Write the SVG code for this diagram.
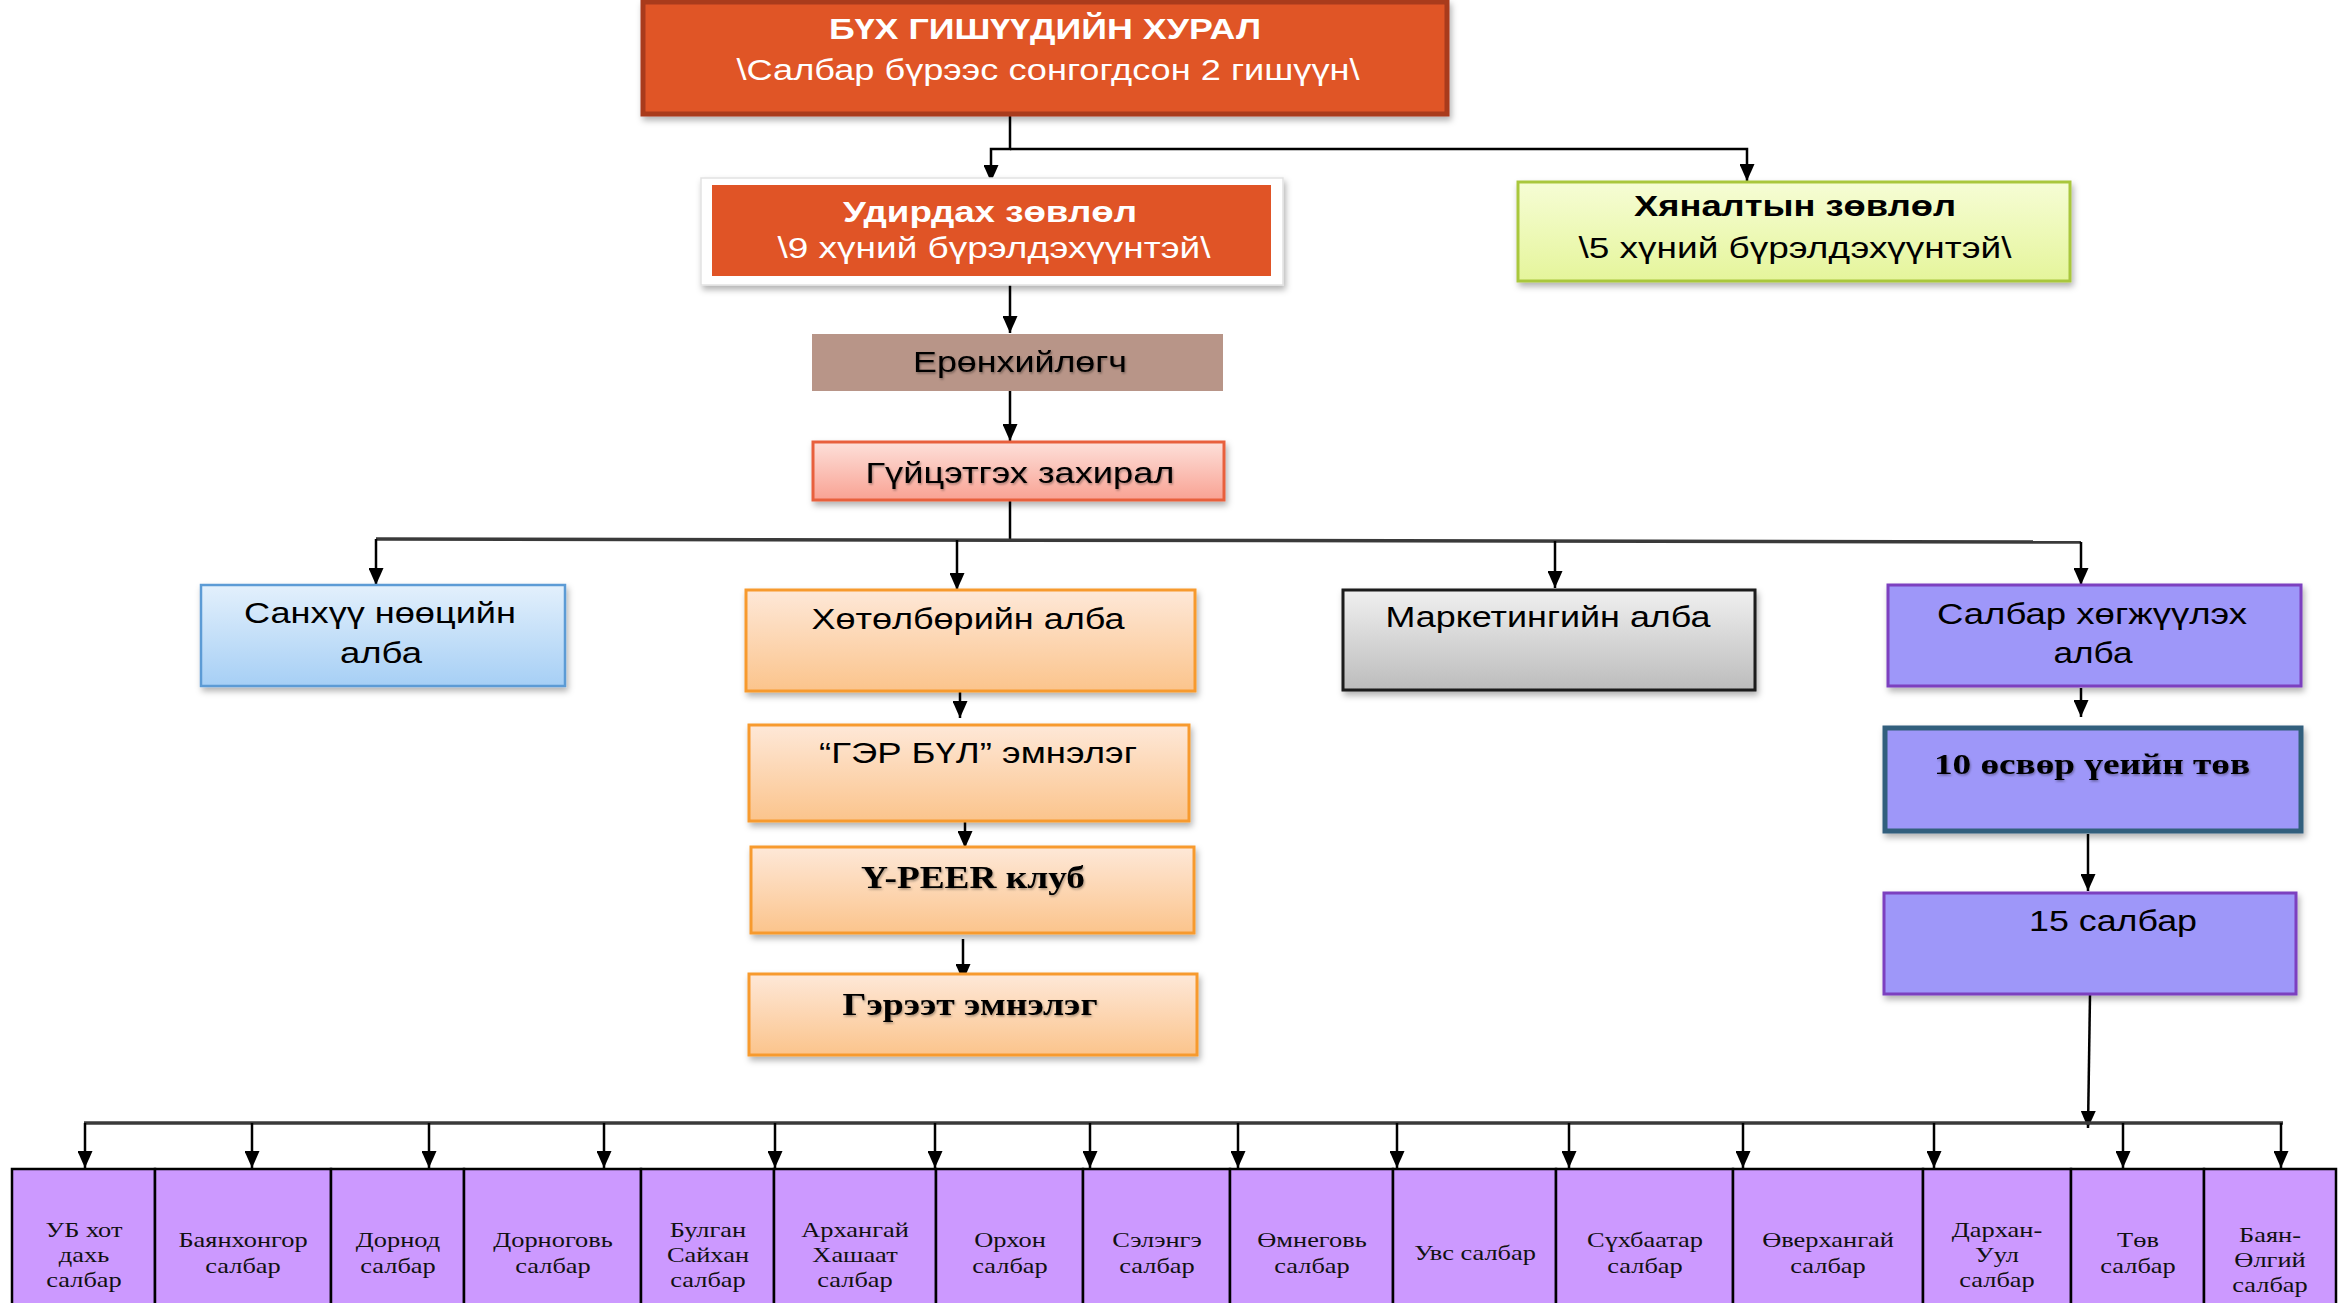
<svg xmlns="http://www.w3.org/2000/svg" width="2338" height="1303" viewBox="0 0 2338 1303">
<defs>
<style>
.s{font-family:"Liberation Sans",Arial,sans-serif;font-size:29px;text-anchor:middle;fill:#000}
.b{font-weight:bold}
.w{fill:#fff}
.r{font-family:"Liberation Serif","Times New Roman",serif;text-anchor:middle;fill:#000}
.cell{font-family:"Liberation Serif","Times New Roman",serif;font-size:22px;text-anchor:middle;fill:#111}
.ln{fill:none;stroke:#000;stroke-width:2.5}
.ar{fill:none;stroke:#000;stroke-width:2.5;marker-end:url(#ah)}
.bus{fill:none;stroke:#3a3a3a;stroke-width:3.5}
.cellbox{fill:#cc99ff;stroke:#000;stroke-width:2.5}
.purple{fill:#9e97f9;stroke:#7b3fbf;stroke-width:3}
.ts{filter:url(#tsh)}
</style>
<marker id="ah" markerUnits="userSpaceOnUse" markerWidth="17" markerHeight="15" viewBox="0 0 17 15" refX="17" refY="7.5" orient="auto"><path d="M0,0 L17,7.5 L0,15 z" fill="#000"/></marker>
<filter id="sh" x="-5%" y="-10%" width="115%" height="135%"><feDropShadow dx="2" dy="4" stdDeviation="3" flood-color="#000" flood-opacity="0.3"/></filter>
<filter id="tsh" x="-5%" y="-20%" width="115%" height="150%"><feDropShadow dx="1" dy="1.5" stdDeviation="1" flood-color="#000" flood-opacity="0.35"/></filter>
<linearGradient id="gBlue" x1="0" y1="0" x2="0" y2="1"><stop offset="0" stop-color="#e3f0fc"/><stop offset="1" stop-color="#a6cff5"/></linearGradient>
<linearGradient id="gPeach" x1="0" y1="0" x2="0" y2="1"><stop offset="0" stop-color="#fee8d8"/><stop offset="1" stop-color="#fbc48c"/></linearGradient>
<linearGradient id="gGray" x1="0" y1="0" x2="0" y2="1"><stop offset="0" stop-color="#f0f0f0"/><stop offset="1" stop-color="#bcbcbc"/></linearGradient>
<linearGradient id="gPink" x1="0" y1="0" x2="0" y2="1"><stop offset="0" stop-color="#fde0da"/><stop offset="1" stop-color="#f9a293"/></linearGradient>
<linearGradient id="gLime" x1="0" y1="0" x2="0" y2="1"><stop offset="0" stop-color="#f6fdd5"/><stop offset="1" stop-color="#e5f59b"/></linearGradient>
</defs>
<rect width="2338" height="1303" fill="#fff"/>

<g id="connectors">
<path class="ar" d="M1010,115 V149 H991 V182"/>
<path class="ar" d="M1010,149 H1747 V181"/>
<path class="ar" d="M1010,285 V333"/>
<path class="ar" d="M1010,391 V441"/>
<path class="ln" d="M1010,500 V540"/>
<path class="bus" d="M376,539 L2081,542"/>
<path class="ar" d="M376,539 V585"/>
<path class="ar" d="M957,540 V590"/>
<path class="ar" d="M1555,541 V588"/>
<path class="ar" d="M2081,542 V585"/>
<path class="ar" d="M960,692 V718"/>
<path class="ar" d="M965,821 V848"/>
<path class="ar" d="M963,939 V981"/>
<path class="ar" d="M2081,688 V717"/>
<path class="ar" d="M2088,834 V891"/>
<path class="ar" d="M2090,995 L2088,1128"/>
<path class="bus" d="M84,1123 H2283"/>
<path class="ar" d="M85,1123 V1168"/>
<path class="ar" d="M252,1123 V1168"/>
<path class="ar" d="M429,1123 V1168"/>
<path class="ar" d="M604,1123 V1168"/>
<path class="ar" d="M775,1123 V1168"/>
<path class="ar" d="M935,1123 V1168"/>
<path class="ar" d="M1090,1123 V1168"/>
<path class="ar" d="M1238,1123 V1168"/>
<path class="ar" d="M1397,1123 V1168"/>
<path class="ar" d="M1569,1123 V1168"/>
<path class="ar" d="M1743,1123 V1168"/>
<path class="ar" d="M1934,1123 V1168"/>
<path class="ar" d="M2123,1123 V1168"/>
<path class="ar" d="M2281,1123 V1168"/>
</g>

<g id="general-assembly">
<rect x="643" y="2" width="804" height="112" fill="#e05426" stroke="#a93b1e" stroke-width="5" filter="url(#sh)"/>
<text class="s b w" x="1045" y="39" textLength="432" lengthAdjust="spacingAndGlyphs">БҮХ ГИШҮҮДИЙН ХУРАЛ</text>
<text class="s w" x="1048" y="80" textLength="623" lengthAdjust="spacingAndGlyphs">\Салбар бүрээс сонгогдсон 2 гишүүн\</text>
</g>

<g id="board">
<rect x="701" y="178" width="582" height="107" fill="#fff" stroke="#e2e2e2" stroke-width="1.5" filter="url(#sh)"/>
<rect x="712" y="185" width="559" height="91" fill="#e05426"/>
<text class="s b w" x="990" y="222" textLength="294" lengthAdjust="spacingAndGlyphs">Удирдах зөвлөл</text>
<text class="s w" x="994" y="258" textLength="433" lengthAdjust="spacingAndGlyphs">\9 хүний бүрэлдэхүүнтэй\</text>
</g>

<g id="supervisory">
<rect x="1518" y="182" width="552" height="99" fill="url(#gLime)" stroke="#a9c73d" stroke-width="3" filter="url(#sh)"/>
<text class="s b" x="1795" y="216" textLength="322" lengthAdjust="spacingAndGlyphs">Хяналтын зөвлөл</text>
<text class="s" x="1795" y="258" textLength="433" lengthAdjust="spacingAndGlyphs">\5 хүний бүрэлдэхүүнтэй\</text>
</g>

<g id="president">
<rect x="812" y="334" width="411" height="57" fill="#b89588"/>
<text class="s ts" x="1020" y="372" font-size="28" textLength="214" lengthAdjust="spacingAndGlyphs">Ерөнхийлөгч</text>
</g>

<g id="director">
<rect x="813" y="442" width="411" height="58" fill="url(#gPink)" stroke="#e8603c" stroke-width="3" filter="url(#sh)"/>
<text class="s ts" x="1020" y="483" font-size="28" textLength="309" lengthAdjust="spacingAndGlyphs">Гүйцэтгэх захирал</text>
</g>

<g id="finance">
<rect x="201" y="585" width="364" height="101" fill="url(#gBlue)" stroke="#5b9bd5" stroke-width="2.5" filter="url(#sh)"/>
<text class="s" x="380" y="623" textLength="272" lengthAdjust="spacingAndGlyphs">Санхүү нөөцийн</text>
<text class="s" x="381" y="663" textLength="82" lengthAdjust="spacingAndGlyphs">алба</text>
</g>

<g id="program">
<rect x="746" y="590" width="449" height="101" fill="url(#gPeach)" stroke="#f79a2e" stroke-width="3" filter="url(#sh)"/>
<text class="s" x="968" y="629" textLength="313" lengthAdjust="spacingAndGlyphs">Хөтөлбөрийн алба</text>
</g>

<g id="family-clinic">
<rect x="749" y="725" width="440" height="96" fill="url(#gPeach)" stroke="#f79a2e" stroke-width="3" filter="url(#sh)"/>
<text class="s" x="978" y="763" font-size="27" textLength="318" lengthAdjust="spacingAndGlyphs">“ГЭР БҮЛ” эмнэлэг</text>
</g>

<g id="ypeer">
<rect x="751" y="847" width="443" height="86" fill="url(#gPeach)" stroke="#f79a2e" stroke-width="3" filter="url(#sh)"/>
<text class="r b ts" x="973" y="888" font-size="31" textLength="224" lengthAdjust="spacingAndGlyphs">Y-PEER клуб</text>
</g>

<g id="contract-clinic">
<rect x="749" y="974" width="448" height="81" fill="url(#gPeach)" stroke="#f79a2e" stroke-width="3" filter="url(#sh)"/>
<text class="r b ts" x="970" y="1015" font-size="31" textLength="255" lengthAdjust="spacingAndGlyphs">Гэрээт эмнэлэг</text>
</g>

<g id="marketing">
<rect x="1343" y="590" width="412" height="100" fill="url(#gGray)" stroke="#1a1a1a" stroke-width="3" filter="url(#sh)"/>
<text class="s" x="1548" y="627" textLength="325" lengthAdjust="spacingAndGlyphs">Маркетингийн алба</text>
</g>

<g id="branch-dev">
<rect class="purple" x="1888" y="585" width="413" height="101" filter="url(#sh)"/>
<text class="s" x="2092" y="624" textLength="310" lengthAdjust="spacingAndGlyphs">Салбар хөгжүүлэх</text>
<text class="s" x="2093" y="663" textLength="79" lengthAdjust="spacingAndGlyphs">алба</text>
</g>

<g id="youth-centers">
<rect x="1885" y="728" width="416" height="103" fill="#9e97f9" stroke="#315f7d" stroke-width="5" filter="url(#sh)"/>
<text class="r b ts" x="2092" y="774" font-size="30" textLength="316" lengthAdjust="spacingAndGlyphs">10 өсвөр үеийн төв</text>
</g>

<g id="branches15">
<rect class="purple" x="1884" y="893" width="412" height="101" filter="url(#sh)"/>
<text class="s" x="2113" y="931" textLength="168" lengthAdjust="spacingAndGlyphs">15 салбар</text>
</g>

<g id="b01"><rect class="cellbox" x="12" y="1169" width="143" height="150"/><g transform="translate(84,0) scale(1.2,1)"><text class="cell" x="0" y="1237">УБ хот</text><text class="cell" x="0" y="1262">дахь</text><text class="cell" x="0" y="1287">салбар</text></g></g>
<g id="b02"><rect class="cellbox" x="155" y="1169" width="176" height="150"/><g transform="translate(243,0) scale(1.2,1)"><text class="cell" x="0" y="1247">Баянхонгор</text><text class="cell" x="0" y="1273">салбар</text></g></g>
<g id="b03"><rect class="cellbox" x="331" y="1169" width="133" height="150"/><g transform="translate(398,0) scale(1.2,1)"><text class="cell" x="0" y="1247">Дорнод</text><text class="cell" x="0" y="1273">салбар</text></g></g>
<g id="b04"><rect class="cellbox" x="464" y="1169" width="177" height="150"/><g transform="translate(553,0) scale(1.2,1)"><text class="cell" x="0" y="1247">Дорноговь</text><text class="cell" x="0" y="1273">салбар</text></g></g>
<g id="b05"><rect class="cellbox" x="641" y="1169" width="133" height="150"/><g transform="translate(708,0) scale(1.2,1)"><text class="cell" x="0" y="1237">Булган</text><text class="cell" x="0" y="1262">Сайхан</text><text class="cell" x="0" y="1287">салбар</text></g></g>
<g id="b06"><rect class="cellbox" x="774" y="1169" width="162" height="150"/><g transform="translate(855,0) scale(1.2,1)"><text class="cell" x="0" y="1237">Архангай</text><text class="cell" x="0" y="1262">Хашаат</text><text class="cell" x="0" y="1287">салбар</text></g></g>
<g id="b07"><rect class="cellbox" x="936" y="1169" width="147" height="150"/><g transform="translate(1010,0) scale(1.2,1)"><text class="cell" x="0" y="1247">Орхон</text><text class="cell" x="0" y="1273">салбар</text></g></g>
<g id="b08"><rect class="cellbox" x="1083" y="1169" width="147" height="150"/><g transform="translate(1157,0) scale(1.2,1)"><text class="cell" x="0" y="1247">Сэлэнгэ</text><text class="cell" x="0" y="1273">салбар</text></g></g>
<g id="b09"><rect class="cellbox" x="1230" y="1169" width="163" height="150"/><g transform="translate(1312,0) scale(1.2,1)"><text class="cell" x="0" y="1247">Өмнеговь</text><text class="cell" x="0" y="1273">салбар</text></g></g>
<g id="b10"><rect class="cellbox" x="1393" y="1169" width="163" height="150"/><g transform="translate(1475,0) scale(1.2,1)"><text class="cell" x="0" y="1260">Увс салбар</text></g></g>
<g id="b11"><rect class="cellbox" x="1556" y="1169" width="177" height="150"/><g transform="translate(1645,0) scale(1.2,1)"><text class="cell" x="0" y="1247">Сүхбаатар</text><text class="cell" x="0" y="1273">салбар</text></g></g>
<g id="b12"><rect class="cellbox" x="1733" y="1169" width="190" height="150"/><g transform="translate(1828,0) scale(1.2,1)"><text class="cell" x="0" y="1247">Өверхангай</text><text class="cell" x="0" y="1273">салбар</text></g></g>
<g id="b13"><rect class="cellbox" x="1923" y="1169" width="148" height="150"/><g transform="translate(1997,0) scale(1.2,1)"><text class="cell" x="0" y="1237">Дархан-</text><text class="cell" x="0" y="1262">Уул</text><text class="cell" x="0" y="1287">салбар</text></g></g>
<g id="b14"><rect class="cellbox" x="2071" y="1169" width="133" height="150"/><g transform="translate(2138,0) scale(1.2,1)"><text class="cell" x="0" y="1247">Төв</text><text class="cell" x="0" y="1273">салбар</text></g></g>
<g id="b15"><rect class="cellbox" x="2204" y="1169" width="132" height="150"/><g transform="translate(2270,0) scale(1.2,1)"><text class="cell" x="0" y="1242">Баян-</text><text class="cell" x="0" y="1267">Өлгий</text><text class="cell" x="0" y="1292">салбар</text></g></g>
</svg>
